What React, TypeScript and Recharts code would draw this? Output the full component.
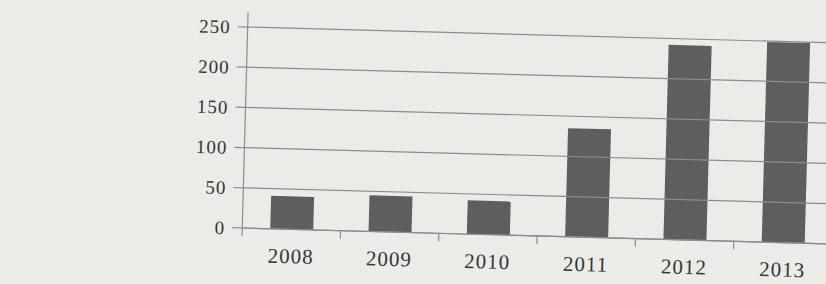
import { BarChart, Bar, XAxis, YAxis, ReferenceLine } from 'recharts'

const years = ['2008', '2009', '2010', '2011', '2012', '2013']
const values = [41, 45, 42, 135, 242, 249]
const yTicks = [0, 50, 100, 150, 200, 250]

const data = years.map((year, i) => ({ year, value: values[i] }))

const paper = '#ebebe8'
const ink = '#363636'
const rule = '#8c8c8c'

// year label plus a small tick mark on the left band boundary (Excel style)
function YearTick(props: any) {
  const { x, y, payload } = props
  const half = payload?.offset ?? 49
  return (
    <g>
      <line x1={x - half} y1={y} x2={x - half} y2={y + 8} stroke={rule} strokeWidth={1.2} />
      <text
        x={x}
        y={y + 34}
        textAnchor="middle"
        fill={ink}
        fontFamily="'Liberation Serif', serif"
        fontSize={21}
        style={{ letterSpacing: 1 }}
      >
        {payload.value}
      </text>
    </g>
  )
}

export default function App() {
  return (
    <div
      style={{
        position: 'fixed',
        left: 0,
        top: 0,
        width: 826,
        height: 284,
        overflow: 'hidden',
        background: paper,
      }}
    >
      {/* the scan is a little skewed, so tilt the whole chart */}
      <div
        style={{
          position: 'absolute',
          left: 0,
          top: 0,
          transform: 'rotate(1.55deg)',
          transformOrigin: '540px 130px',
        }}
      >
        <BarChart
          width={845}
          height={284}
          data={data}
          margin={{ top: 20.5, right: 10, left: 0, bottom: 0 }}
          barCategoryGap={0}
        >
          {/* grid rows only on the labelled ticks (axis runs a bit higher) */}
          {yTicks.map((t) => (
            <ReferenceLine key={t} y={t} stroke={rule} strokeWidth={1.2} />
          ))}
          <XAxis
            dataKey="year"
            axisLine={{ stroke: rule, strokeWidth: 1.2 }}
            tickLine={false}
            tickSize={0}
            tickMargin={0}
            height={48}
            interval={0}
            tick={<YearTick />}
          />
          <YAxis
            type="number"
            domain={[0, 268]}
            ticks={yTicks}
            width={245}
            axisLine={{ stroke: rule, strokeWidth: 1.2 }}
            tickLine={{ stroke: rule, strokeWidth: 1.2 }}
            tickSize={10}
            tickMargin={7}
            tick={{
              fill: ink,
              fontSize: 19,
              fontFamily: "'Liberation Serif', serif",
              style: { letterSpacing: 1 },
            }}
          />
          <Bar dataKey="value" fill="#5e5e5e" barSize={43} isAnimationActive={false} />
        </BarChart>
      </div>
    </div>
  )
}
